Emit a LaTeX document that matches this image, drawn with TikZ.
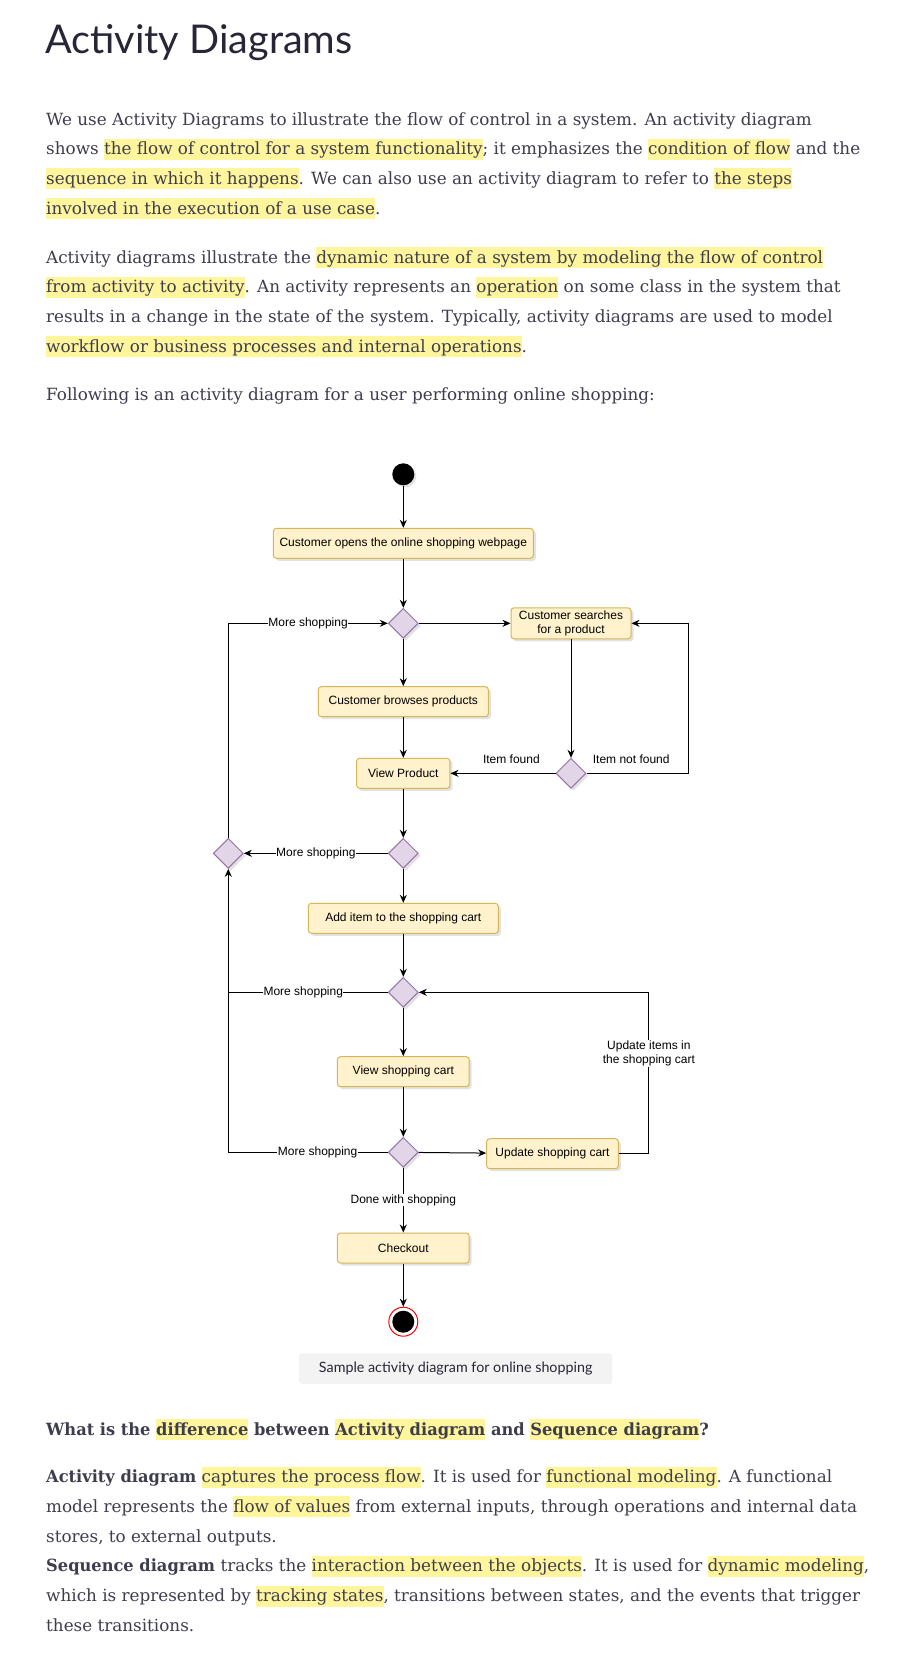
\documentclass[tikz,border=0pt]{standalone}
\usepackage{fontspec}
\setmainfont{DejaVu Serif}[BoldFeatures={FakeStretch=0.967}]
\newfontfamily\headfont{Lato}
\newfontfamily\diagfont{Liberation Sans}
\usetikzlibrary{arrows.meta, shapes.geometric, shadows}

\definecolor{bodytext}{HTML}{3D3D4E}
\definecolor{headtext}{HTML}{262637}
\definecolor{hlyellow}{HTML}{FFF59D}
\definecolor{actfill}{HTML}{FFF2CC}
\definecolor{actline}{HTML}{D6B656}
\definecolor{decfill}{HTML}{E1D5E7}
\definecolor{decline}{HTML}{9673A6}
\definecolor{capfill}{HTML}{F3F3F3}

\newcommand{\hilite}[1]{{\setlength{\fboxsep}{0pt}\colorbox{hlyellow}{\rule[-5pt]{0pt}{21pt}#1}}}

\tikzset{
  line/.style={line width=1pt},
  arr/.style={line width=1pt, -{Stealth[length=8pt,width=7pt]}},
  act/.style={rectangle, rounded corners=3pt, draw=actline, fill=actfill, line width=1pt,
    minimum height=30pt, inner sep=0pt, align=center,
    font=\diagfont\fontsize{12}{14.4}\selectfont,
    drop shadow={shadow xshift=2.5pt, shadow yshift=-2.5pt, fill=black!22}},
  dec/.style={diamond, draw=decline, fill=decfill, line width=1pt,
    minimum width=30pt, minimum height=30pt, inner sep=0pt,
    drop shadow={shadow xshift=2.5pt, shadow yshift=-2.5pt, fill=black!22}},
  start/.style={circle, fill=black, minimum size=22pt, inner sep=0pt,
    drop shadow={shadow xshift=2pt, shadow yshift=-2pt, fill=black!22}},
  finish/.style={circle, draw=red, fill=white, line width=1pt, minimum size=29pt, inner sep=0pt,
    path picture={\fill[black] (path picture bounding box.center) circle (11pt);}},
  lbl/.style={fill=white, inner sep=0.5pt, font=\diagfont\fontsize{12}{14.4}\selectfont},
  lblup/.style={above=9pt, inner sep=0pt, font=\diagfont\fontsize{12}{14.4}\selectfont},
  txt/.style={anchor=base west, inner sep=0pt, text=bodytext, font=\fontsize{16.8}{29.7}\selectfont},
  capbox/.style={rectangle, rounded corners=3pt, fill=capfill, minimum width=313pt,
    minimum height=30.7pt, text=headtext, font=\headfont\fontsize{14.3}{18}\selectfont},
}

\begin{document}
\begin{tikzpicture}[x=1pt, y=-1pt]
  \useasboundingbox[fill=white] (0,0) rectangle (904,1662);

  % heading and text above the diagram
  \node[anchor=base west, inner sep=0pt, text=headtext, font=\headfont\fontsize{39.6}{48}\selectfont] (title) at (45,53.3) {Activity Diagrams};

  \node[txt] (p1a) at (46,125) {We use Activity Diagrams to illustrate the flow of control in a system. An activity diagram};
  \node[txt] (p1b) at (46,154.7) {shows \hilite{the flow of control for a system functionality}; it emphasizes the \hilite{condition of flow} and the};
  \node[txt] (p1c) at (46,184.4) {\hilite{sequence in which it happens}. We can also use an activity diagram to refer to \hilite{the steps}};
  \node[txt] (p1d) at (46,214.1) {\hilite{involved in the execution of a use case}.};

  \node[txt] (p2a) at (46,263) {Activity diagrams illustrate the \hilite{dynamic nature of a system by modeling the flow of control}};
  \node[txt] (p2b) at (46,292.7) {\hilite{from activity to activity}. An activity represents an \hilite{operation} on some class in the system that};
  \node[txt] (p2c) at (46,322.4) {results in a change in the state of the system. Typically, activity diagrams are used to model};
  \node[txt] (p2d) at (46,352.1) {\hilite{workflow or business processes and internal operations}.};

  \node[txt] (p3a) at (46,400.5) {Following is an activity diagram for a user performing online shopping:};

  % the activity diagram
  \node[start] (init) at (403.3,474.3) {};
  \node[act, minimum width=260pt] (open) at (403.3,543.3) {Customer opens the online shopping webpage};
  \node[dec] (d1) at (403.3,623.3) {};
  \node[act, minimum width=120pt, minimum height=31pt] (search) at (571,623.3) {Customer searches\\for a product};
  \node[act, minimum width=170pt] (browse) at (403.3,701.7) {Customer browses products};
  \node[dec] (found) at (571,773.3) {};
  \node[act, minimum width=93.3pt] (view) at (403.3,773.3) {View Product};
  \node[dec] (d2) at (403.3,853.3) {};
  \node[dec] (dmore) at (228.3,853.3) {};
  \node[act, minimum width=190pt] (add) at (403.3,918.3) {Add item to the shopping cart};
  \node[dec] (d3) at (403.3,992.3) {};
  \node[act, minimum width=131.7pt] (cart) at (403.3,1071.7) {View shopping cart};
  \node[dec] (d4) at (403.3,1152.3) {};
  \node[act, minimum width=131.7pt] (update) at (552.5,1153.7) {Update shopping cart};
  \node[act, minimum width=131.7pt] (checkout) at (403.3,1248) {Checkout};
  \node[finish] (final) at (403.3,1321.7) {};

  \draw[arr] (init) -- (open);
  \draw[arr] (open) -- (d1);
  \draw[arr] (d1) -- (search);
  \draw[arr] (d1) -- (browse);
  \draw[arr] (search) -- (found);
  \draw[arr] (found.east) -- node[lblup, pos=0.44]{Item not found} ++(101.6,0) |- (search.east);
  \draw[arr] (found) -- node[lblup, pos=0.42]{Item found} (view);
  \draw[arr] (browse) -- (view);
  \draw[arr] (view) -- (d2);
  \draw[arr] (d2) -- node[lbl]{More shopping} (dmore);
  \draw[arr] (dmore) |- node[lbl, pos=0.75]{More shopping} (d1);
  \draw[arr] (d2) -- (add);
  \draw[arr] (add) -- (d3);
  \draw[line] (d3) -- node[lbl, pos=0.53]{More shopping} (d3 -| dmore);
  \draw[arr] (d4) -| node[lbl, pos=0.22]{More shopping} (dmore);
  \draw[arr] (d3) -- (cart);
  \draw[arr] (cart) -- (d4);
  \draw[arr] (d4) -- (update);
  \draw[arr] (update.east) -- ++(30,0) |- node[lbl, pos=0.31, align=center]{Update items in\\the shopping cart} (d3.east);
  \draw[arr] (d4) -- node[lbl]{Done with shopping} (checkout);
  \draw[arr] (checkout) -- (final);

  \node[capbox] (caption) at (455.7,1368.7) {Sample activity diagram for online shopping};

  % text below the diagram
  \node[txt, font=\bfseries\fontsize{16.8}{29.7}\selectfont] (q) at (46,1435) {What is the \hilite{difference} between \hilite{Activity diagram} and \hilite{Sequence diagram}?};

  \node[txt] (p4a) at (46,1482.7) {\textbf{Activity diagram} \hilite{captures the process flow}. It is used for \hilite{functional modeling}. A functional};
  \node[txt] (p4b) at (46,1512.4) {model represents the \hilite{flow of values} from external inputs, through operations and internal data};
  \node[txt] (p4c) at (46,1542.1) {stores, to external outputs.};
  \node[txt] (p4d) at (46,1571.8) {\textbf{Sequence diagram} tracks the \hilite{interaction between the objects}. It is used for \hilite{dynamic modeling},};
  \node[txt] (p4e) at (46,1601.5) {which is represented by \hilite{tracking states}, transitions between states, and the events that trigger};
  \node[txt] (p4f) at (46,1631.2) {these transitions.};
\end{tikzpicture}
\end{document}
